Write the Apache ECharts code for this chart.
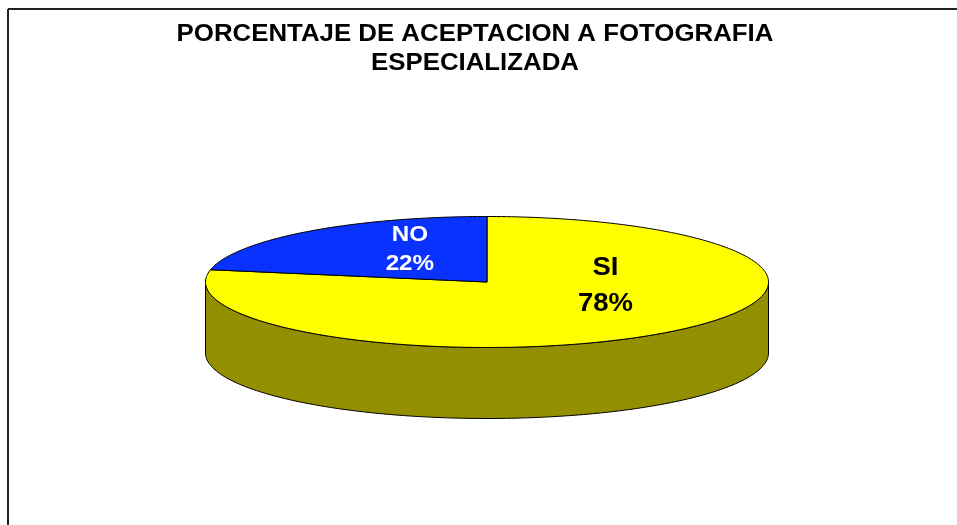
<!DOCTYPE html>
<html>
<head>
<meta charset="utf-8">
<script src="https://cdn.jsdelivr.net/npm/echarts@6/dist/echarts.min.js"></script>
<style>
html, body { margin: 0; padding: 0; background: #fff; }
#chart { width: 957px; height: 525px; }
</style>
</head>
<body>
<div id="chart"></div>
<script>
// datos
var categories = ["SI", "NO"];
var values = [78, 22];
var sliceColors = ["#FFFF00", "#0A32FF"];
var labelColors = ["#000000", "#FFFFFF"];

var total = values.reduce(function (a, b) { return a + b; }, 0);

// geometria del pastel 3D
var cx = 487, cy = 282, rx = 281.5, ry = 65.5, depth = 71;
// etiqueta: fraccion del radio en x, en y, tamaño de letra, interlineado
var labelPlace = [[0.66, 0.08, 25, 36], [0.43, 0.65, 22, 29.5]];

function pt(deg, dy) {
    var t = deg * Math.PI / 180;
    return [cx + rx * Math.cos(t), cy - ry * Math.sin(t) + (dy || 0)];
}

function arc(from, to, dy) {
    var pts = [];
    var n = Math.max(2, Math.ceil(Math.abs(to - from)));
    for (var k = 0; k <= n; k++) {
        pts.push(pt(from + (to - from) * k / n, dy));
    }
    return pts;
}

function renderItem(params, api) {
    var i = params.dataIndex;
    var before = 0;
    for (var j = 0; j < i; j++) before += values[j];
    var start = 90 - before / total * 360;
    var end = start - api.value(0) / total * 360;
    var children = [];

    // caras laterales (solo la mitad frontal se ve)
    for (var k = -2; k <= 1; k++) {
        var lo = -180 + 360 * k, hi = 360 * k;
        var a = Math.max(end, lo), b = Math.min(start, hi);
        if (a < b) {
            var side = arc(b, a, 0).concat(arc(a, b, depth));
            children.push({
                type: "polygon",
                z2: 1,
                shape: { points: side },
                style: { fill: "#948F00", stroke: "#000", lineWidth: 1 }
            });
        }
    }

    // cara superior
    var top = [[cx, cy]].concat(arc(start, end, 0));
    children.push({
        type: "polygon",
        z2: 10,
        shape: { points: top },
        style: { fill: sliceColors[i], stroke: "#000", lineWidth: 1 }
    });

    // etiqueta
    var mid = (start + end) / 2 * Math.PI / 180;
    var lp = labelPlace[i];
    var pct = Math.round(api.value(0) / total * 100);
    children.push({
        type: "text",
        z2: 20,
        x: cx + rx * Math.cos(mid) * lp[0],
        y: cy - ry * Math.sin(mid) * lp[1],
        scaleX: 1.1,
        style: {
            text: categories[i] + "\n" + pct + "%",
            x: 0,
            y: 0,
            align: "center",
            verticalAlign: "middle",
            font: "bold " + lp[2] + "px 'Liberation Sans', Arial, sans-serif",
            lineHeight: lp[3],
            fill: labelColors[i]
        }
    });

    return { type: "group", children: children };
}

var myChart = echarts.init(document.getElementById("chart"));
myChart.setOption({
    animation: false,
    backgroundColor: "#fff",
    graphic: [
        { type: "line", shape: { x1: 8, y1: 9, x2: 957, y2: 9 }, style: { stroke: "#222", lineWidth: 2 } },
        { type: "line", shape: { x1: 8, y1: 9, x2: 8, y2: 525 }, style: { stroke: "#222", lineWidth: 2 } },
        {
            type: "text",
            x: 475,
            y: 19.5,
            scaleX: 1.076,
            style: {
                text: "PORCENTAJE DE ACEPTACION A FOTOGRAFIA\nESPECIALIZADA",
                x: 0,
                y: 0,
                align: "center",
                verticalAlign: "top",
                font: "bold 24px 'Liberation Sans', Arial, sans-serif",
                lineHeight: 29,
                fill: "#000"
            }
        }
    ],
    series: [{
        type: "custom",
        coordinateSystem: "none",
        renderItem: renderItem,
        data: categories.map(function (c, i) { return { name: c, value: values[i] }; })
    }]
});
window.addEventListener("resize", function () {
    myChart.resize();
});
</script>
</body>
</html>
